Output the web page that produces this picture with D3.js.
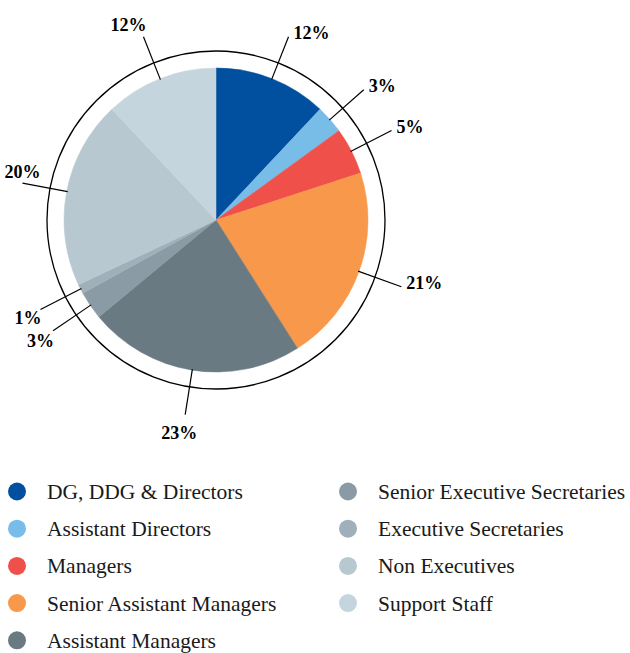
<!DOCTYPE html>
<html>
<head>
<meta charset="utf-8">
<script src="https://cdn.jsdelivr.net/npm/d3@7"></script>
<style>
  body { margin: 0; background: #fff; }
  svg text { font-family: "Liberation Serif", "Times New Roman", serif; fill: #1a1a1a; }
</style>
</head>
<body>
<div id="container"></div>
<script>
var width = 630,
    height = 653;

// staff categories, share of headcount (%) and slice colours
var categories = ["DG, DDG & Directors", "Assistant Directors", "Managers",
                  "Senior Assistant Managers", "Assistant Managers",
                  "Senior Executive Secretaries", "Executive Secretaries",
                  "Non Executives", "Support Staff"];
var shares = [12, 3, 5, 21, 23, 3, 1, 20, 12];
var colors = ["#00509f", "#78bde8", "#f0504a", "#f7984a", "#6a7a82",
              "#8a9ba5", "#9fb0bb", "#b8c8d1", "#c5d5de"];

var cx = 216, cy = 220,
    r = 152, ring = 169,
    lineIn = 151, lineOut = 197;

var svg = d3.select("#container")
            .append("svg")
            .attr("width", width)
            .attr("height", height);

var data = categories.map(function(c, i){ return {name: c, value: shares[i], color: colors[i]}; });

var pie = d3.pie()
    .sort(null)
    .value(function(d){ return d.value; });

var arc = d3.arc()
    .innerRadius(0)
    .outerRadius(r);

var g = svg.append("g")
    .attr("transform", "translate(" + cx + "," + cy + ")");

var arcs = pie(data);

g.selectAll(".slice")
  .data(arcs)
  .enter().append("path")
  .attr("class", "slice")
  .attr("d", arc)
  .style("fill", function(d){ return d.data.color; })
  .style("stroke", function(d){ return d.data.color; })
  .style("stroke-width", 0.5);

g.append("circle")
  .attr("r", ring)
  .style("fill", "none")
  .style("stroke", "#000")
  .style("stroke-width", 1.3);

// leader lines + labels
arcs.forEach(function(d){
  var a = (d.startAngle + d.endAngle) / 2,
      ux = Math.sin(a), uy = -Math.cos(a);
  var x1 = ux * lineIn, y1 = uy * lineIn,
      x2 = ux * lineOut, y2 = uy * lineOut;

  g.append("line")
    .attr("x1", x1).attr("y1", y1)
    .attr("x2", x2).attr("y2", y2)
    .style("stroke", "#000")
    .style("stroke-width", 1.2);

  var tx, ty, anchor;
  if (ux > 0.3) {            // right side
    anchor = "start"; tx = x2 + 5; ty = y2 - 4;
  } else if (Math.abs(ux) <= 0.3) {  // bottom
    anchor = "middle"; tx = x2 - 6; ty = y2 + 18;
  } else if (Math.abs(uy) < 0.35) {  // far left
    anchor = "middle"; tx = x2; ty = y2 - 11;
  } else if (uy > 0) {       // lower left
    anchor = "end"; tx = x2 + 1; ty = y2 + uy * 18;
  } else {                   // upper left
    anchor = "end"; tx = x2 + 3; ty = y2 + uy * 13;
  }

  g.append("text")
    .attr("x", tx)
    .attr("y", ty)
    .attr("dy", "0.35em")
    .attr("text-anchor", anchor)
    .style("font-weight", "bold")
    .style("font-size", "18px")
    .style("fill", "#000")
    .text(d.data.value + "%");
});

// legend
var legend = svg.append("g").attr("id", "legend");
var rowH = 37.2;

var items = legend.selectAll(".item")
  .data(data)
  .enter().append("g")
  .attr("class", "item")
  .attr("transform", function(d, i){
    var col = i < 5 ? 0 : 1,
        row = i < 5 ? i : i - 5;
    return "translate(" + (col ? 348 : 17) + "," + (491.5 + row * rowH) + ")";
  });

items.append("circle")
  .attr("r", 9)
  .style("fill", function(d){ return d.color; });

items.append("text")
  .attr("x", 30)
  .attr("dy", "0.35em")
  .style("font-size", "21.5px")
  .text(function(d){ return d.name; });
</script>
</body>
</html>
